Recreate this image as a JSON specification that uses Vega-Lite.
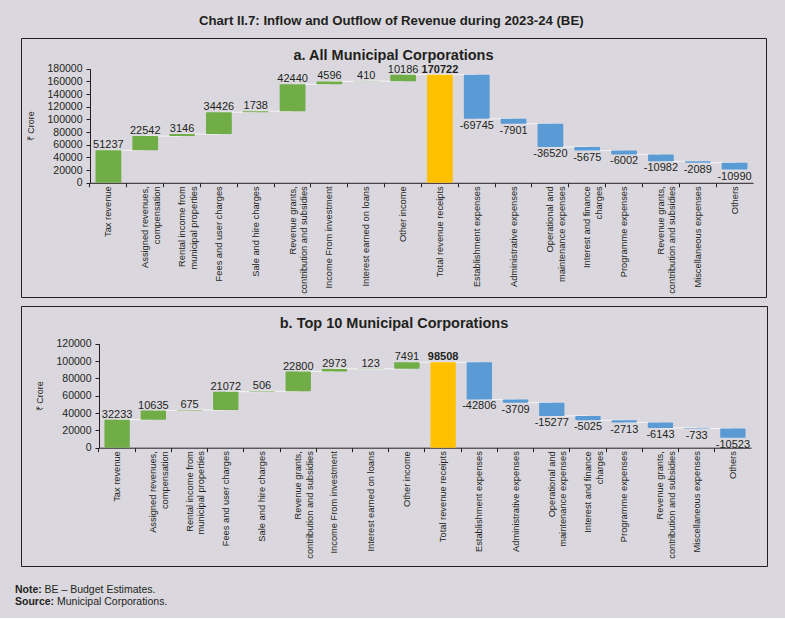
{
  "$schema": "https://vega.github.io/schema/vega-lite/v6.json",
  "background": "#dad8de",
  "padding": {"left": 15, "top": 13, "right": 17, "bottom": 10},
  "title": {
    "text": "Chart II.7: Inflow and Outflow of Revenue during 2023-24 (BE)",
    "fontSize": 13.2, "fontWeight": "bold", "font": "Liberation Sans", "color": "#231f20",
    "anchor": "middle", "offset": 9.5
  },
  "config": {
    "font": "Liberation Sans",
    "view": {"stroke": "#231f20", "strokeWidth": 1},
    "axis": {"grid": false, "domainColor": "#231f20", "tickColor": "#231f20", "labelColor": "#231f20", "titleColor": "#231f20", "labelFont": "Liberation Sans", "titleFont": "Liberation Sans"}
  },
  "datasets": {
    "a": [
      {"cat": "Tax revenue", "amount": 51237, "start": 0, "end": 51237, "kind": "in", "next": "Assigned revenues,|compensation"},
      {"cat": "Assigned revenues,|compensation", "amount": 22542, "start": 51237, "end": 73779, "kind": "in", "next": "Rental income from|municipal properties"},
      {"cat": "Rental income from|municipal properties", "amount": 3146, "start": 73779, "end": 76925, "kind": "in", "next": "Fees and user charges"},
      {"cat": "Fees and user charges", "amount": 34426, "start": 76925, "end": 111351, "kind": "in", "next": "Sale and hire charges"},
      {"cat": "Sale and hire charges", "amount": 1738, "start": 111351, "end": 113089, "kind": "in", "next": "Revenue grants,|contribution and subsidies"},
      {"cat": "Revenue grants,|contribution and subsidies", "amount": 42440, "start": 113089, "end": 155529, "kind": "in", "next": "Income From investment"},
      {"cat": "Income From investment", "amount": 4596, "start": 155529, "end": 160125, "kind": "in", "next": "Interest earned on loans"},
      {"cat": "Interest earned on loans", "amount": 410, "start": 160125, "end": 160535, "kind": "in", "next": "Other income"},
      {"cat": "Other income", "amount": 10186, "start": 160535, "end": 170722, "kind": "in", "next": "Total revenue receipts"},
      {"cat": "Total revenue receipts", "amount": 170722, "start": 0, "end": 170722, "kind": "total", "next": "Establishment expenses"},
      {"cat": "Establishment expenses", "amount": -69745, "start": 170722, "end": 100977, "kind": "out", "next": "Administrative expenses"},
      {"cat": "Administrative expenses", "amount": -7901, "start": 100977, "end": 93076, "kind": "out", "next": "Operational and|maintenance expenses"},
      {"cat": "Operational and|maintenance expenses", "amount": -36520, "start": 93076, "end": 56556, "kind": "out", "next": "Interest and finance|charges"},
      {"cat": "Interest and finance|charges", "amount": -5675, "start": 56556, "end": 50881, "kind": "out", "next": "Programme expenses"},
      {"cat": "Programme expenses", "amount": -6002, "start": 50881, "end": 44879, "kind": "out", "next": "Revenue grants,|contribution and subsidies "},
      {"cat": "Revenue grants,|contribution and subsidies ", "amount": -10982, "start": 44879, "end": 33897, "kind": "out", "next": "Miscellaneous expenses"},
      {"cat": "Miscellaneous expenses", "amount": -2089, "start": 33897, "end": 31808, "kind": "out", "next": "Others"},
      {"cat": "Others", "amount": -10990, "start": 31808, "end": 20818, "kind": "out", "next": null}
    ],
    "b": [
      {"cat": "Tax revenue", "amount": 32233, "start": 0, "end": 32233, "kind": "in", "next": "Assigned revenues,|compensation"},
      {"cat": "Assigned revenues,|compensation", "amount": 10635, "start": 32233, "end": 42868, "kind": "in", "next": "Rental income from|municipal properties"},
      {"cat": "Rental income from|municipal properties", "amount": 675, "start": 42868, "end": 43543, "kind": "in", "next": "Fees and user charges"},
      {"cat": "Fees and user charges", "amount": 21072, "start": 43543, "end": 64615, "kind": "in", "next": "Sale and hire charges"},
      {"cat": "Sale and hire charges", "amount": 506, "start": 64615, "end": 65121, "kind": "in", "next": "Revenue grants,|contribution and subsidies"},
      {"cat": "Revenue grants,|contribution and subsidies", "amount": 22800, "start": 65121, "end": 87921, "kind": "in", "next": "Income From investment"},
      {"cat": "Income From investment", "amount": 2973, "start": 87921, "end": 90894, "kind": "in", "next": "Interest earned on loans"},
      {"cat": "Interest earned on loans", "amount": 123, "start": 90894, "end": 91017, "kind": "in", "next": "Other income"},
      {"cat": "Other income", "amount": 7491, "start": 91017, "end": 98508, "kind": "in", "next": "Total revenue receipts"},
      {"cat": "Total revenue receipts", "amount": 98508, "start": 0, "end": 98508, "kind": "total", "next": "Establishment expenses"},
      {"cat": "Establishment expenses", "amount": -42806, "start": 98508, "end": 55702, "kind": "out", "next": "Administrative expenses"},
      {"cat": "Administrative expenses", "amount": -3709, "start": 55702, "end": 51993, "kind": "out", "next": "Operational and|maintenance expenses"},
      {"cat": "Operational and|maintenance expenses", "amount": -15277, "start": 51993, "end": 36716, "kind": "out", "next": "Interest and finance|charges"},
      {"cat": "Interest and finance|charges", "amount": -5025, "start": 36716, "end": 31691, "kind": "out", "next": "Programme expenses"},
      {"cat": "Programme expenses", "amount": -2713, "start": 31691, "end": 28978, "kind": "out", "next": "Revenue grants,|contribution and subsidies "},
      {"cat": "Revenue grants,|contribution and subsidies ", "amount": -6143, "start": 28978, "end": 22835, "kind": "out", "next": "Miscellaneous expenses"},
      {"cat": "Miscellaneous expenses", "amount": -733, "start": 22835, "end": 22102, "kind": "out", "next": "Others"},
      {"cat": "Others", "amount": -10523, "start": 22102, "end": 11579, "kind": "out", "next": null}
    ],
    "notes": [
      {"line": 1, "b": "Note:", "t": "BE – Budget Estimates."},
      {"line": 2, "b": "Source:", "t": "Municipal Corporations."}
    ]
  },
  "spacing": 17,
  "vconcat": [
    {
      "spacing": 7,
      "vconcat": [
        {
          "width": 745, "height": 259,
          "title": {"text": "a. All Municipal Corporations", "offset": -25, "fontSize": 14.5, "fontWeight": "bold", "font": "Liberation Sans", "color": "#231f20"},
          "data": {"name": "a"},
          "resolve": {"axis": {"x": "independent"}},
          "encoding": {
            "y": {"field": "end", "type": "quantitative",
              "scale": {"domain": [0, 180000], "nice": false, "range": [144.8, 30.8]},
              "axis": {"title": "₹ Crore", "orient": "left", "offset": -69, "values": [0, 20000, 40000, 60000, 80000, 100000, 120000, 140000, 160000, 180000], "format": "d", "tickSize": 4, "labelPadding": 4, "labelFontSize": 10.5, "titleFontSize": 9, "titleFontWeight": "normal", "titlePadding": 11}}
          },
          "layer": [
            {
              "transform": [{"filter": "datum.next != null"}],
              "mark": {"type": "rule", "color": "#f4f4f4", "strokeWidth": 1},
              "encoding": {
                "x": {"field": "cat", "type": "nominal", "sort": null,
                  "axis": {"title": null, "orient": "bottom", "offset": -114.2, "domain": false, "labels": false, "ticks": true, "tickSize": 4, "bandPosition": -0.2143}},
                "x2": {"field": "next"}
              }
            },
            {
              "mark": {"type": "bar", "cornerRadius": 1},
              "encoding": {
                "x": {"field": "cat", "type": "nominal", "sort": null,
                  "scale": {"range": [69, 732], "paddingInner": 0.3, "paddingOuter": 0.15},
                  "axis": {"title": null, "orient": "bottom", "offset": -114.2, "domain": true, "ticks": false, "labelAngle": 270, "labelAlign": "right", "labelBaseline": "middle", "labelPadding": 3, "labelFontSize": 9.3, "labelLineHeight": 11.5, "labelOverlap": false, "labelLimit": 0, "labelExpr": "split(trim(datum.label), '|')"}},
                "y2": {"field": "start"},
                "color": {"field": "kind", "type": "nominal", "scale": {"domain": ["in", "total", "out"], "range": ["#70ad47", "#ffc000", "#5b9bd5"]}, "legend": null}
              }
            },
            {
              "transform": [{"filter": "datum.kind == 'in'"}],
              "mark": {"type": "text", "baseline": "alphabetic", "dy": -2, "fontSize": 11, "color": "#231f20"},
              "encoding": {
                "x": {"field": "cat", "type": "nominal", "sort": null, "axis": null},
                "text": {"field": "amount", "type": "nominal"}
              }
            },
            {
              "transform": [{"filter": "datum.kind == 'total'"}],
              "mark": {"type": "text", "baseline": "alphabetic", "dy": -2, "fontSize": 11, "fontWeight": "bold", "color": "#231f20"},
              "encoding": {
                "x": {"field": "cat", "type": "nominal", "sort": null, "axis": null},
                "text": {"field": "amount", "type": "nominal"}
              }
            },
            {
              "transform": [{"filter": "datum.kind == 'out'"}],
              "mark": {"type": "text", "baseline": "top", "dy": 1, "fontSize": 11, "color": "#231f20"},
              "encoding": {
                "x": {"field": "cat", "type": "nominal", "sort": null, "axis": null},
                "text": {"field": "amount", "type": "nominal"}
              }
            }
          ]
        },
        {
          "width": 746, "height": 260,
          "title": {"text": "b. Top 10 Municipal Corporations", "offset": -25, "fontSize": 14.5, "fontWeight": "bold", "font": "Liberation Sans", "color": "#231f20"},
          "data": {"name": "b"},
          "resolve": {"axis": {"x": "independent"}},
          "encoding": {
            "y": {"field": "end", "type": "quantitative",
              "scale": {"domain": [0, 120000], "nice": false, "range": [141.7, 37.7]},
              "axis": {"title": "₹ Crore", "orient": "left", "offset": -78, "values": [0, 20000, 40000, 60000, 80000, 100000, 120000], "format": "d", "tickSize": 4, "labelPadding": 4, "labelFontSize": 10.5, "titleFontSize": 9, "titleFontWeight": "normal", "titlePadding": 11}}
          },
          "layer": [
            {
              "transform": [{"filter": "datum.next != null"}],
              "mark": {"type": "rule", "color": "#f4f4f4", "strokeWidth": 1},
              "encoding": {
                "x": {"field": "cat", "type": "nominal", "sort": null,
                  "axis": {"title": null, "orient": "bottom", "offset": -118.3, "domain": false, "labels": false, "ticks": true, "tickSize": 4, "bandPosition": -0.2143}},
                "x2": {"field": "next"}
              }
            },
            {
              "mark": {"type": "bar", "cornerRadius": 1},
              "encoding": {
                "x": {"field": "cat", "type": "nominal", "sort": null,
                  "scale": {"range": [78, 730], "paddingInner": 0.3, "paddingOuter": 0.15},
                  "axis": {"title": null, "orient": "bottom", "offset": -118.3, "domain": true, "ticks": false, "labelAngle": 270, "labelAlign": "right", "labelBaseline": "middle", "labelPadding": 3, "labelFontSize": 9.3, "labelLineHeight": 11.5, "labelOverlap": false, "labelLimit": 0, "labelExpr": "split(trim(datum.label), '|')"}},
                "y2": {"field": "start"},
                "color": {"field": "kind", "type": "nominal", "scale": {"domain": ["in", "total", "out"], "range": ["#70ad47", "#ffc000", "#5b9bd5"]}, "legend": null}
              }
            },
            {
              "transform": [{"filter": "datum.kind == 'in'"}],
              "mark": {"type": "text", "baseline": "alphabetic", "dy": -2, "fontSize": 11, "color": "#231f20"},
              "encoding": {
                "x": {"field": "cat", "type": "nominal", "sort": null, "axis": null},
                "text": {"field": "amount", "type": "nominal"}
              }
            },
            {
              "transform": [{"filter": "datum.kind == 'total'"}],
              "mark": {"type": "text", "baseline": "alphabetic", "dy": -2, "fontSize": 11, "fontWeight": "bold", "color": "#231f20"},
              "encoding": {
                "x": {"field": "cat", "type": "nominal", "sort": null, "axis": null},
                "text": {"field": "amount", "type": "nominal"}
              }
            },
            {
              "transform": [{"filter": "datum.kind == 'out'"}],
              "mark": {"type": "text", "baseline": "top", "dy": 1, "fontSize": 11, "color": "#231f20"},
              "encoding": {
                "x": {"field": "cat", "type": "nominal", "sort": null, "axis": null},
                "text": {"field": "amount", "type": "nominal"}
              }
            }
          ]
        }
      ]
    },
    {
      "width": 745, "height": 24,
      "view": {"stroke": null},
      "data": {"name": "notes"},
      "layer": [
        {
          "mark": {"type": "text", "align": "left", "baseline": "middle", "fontWeight": "bold", "fontSize": 10.5, "dx": -6, "color": "#231f20"},
          "encoding": {
            "x": {"datum": 0, "type": "quantitative", "scale": {"domain": [0, 1]}, "axis": null},
            "y": {"field": "line", "type": "ordinal", "axis": null},
            "text": {"field": "b"}
          }
        },
        {
          "transform": [{"filter": "datum.line == 1"}],
          "mark": {"type": "text", "align": "left", "baseline": "middle", "fontSize": 10.5, "dx": 23.5, "color": "#231f20"},
          "encoding": {
            "x": {"datum": 0, "type": "quantitative", "axis": null},
            "y": {"field": "line", "type": "ordinal", "axis": null},
            "text": {"field": "t"}
          }
        },
        {
          "transform": [{"filter": "datum.line == 2"}],
          "mark": {"type": "text", "align": "left", "baseline": "middle", "fontSize": 10.5, "dx": 36, "color": "#231f20"},
          "encoding": {
            "x": {"datum": 0, "type": "quantitative", "axis": null},
            "y": {"field": "line", "type": "ordinal", "axis": null},
            "text": {"field": "t"}
          }
        }
      ]
    }
  ]
}
